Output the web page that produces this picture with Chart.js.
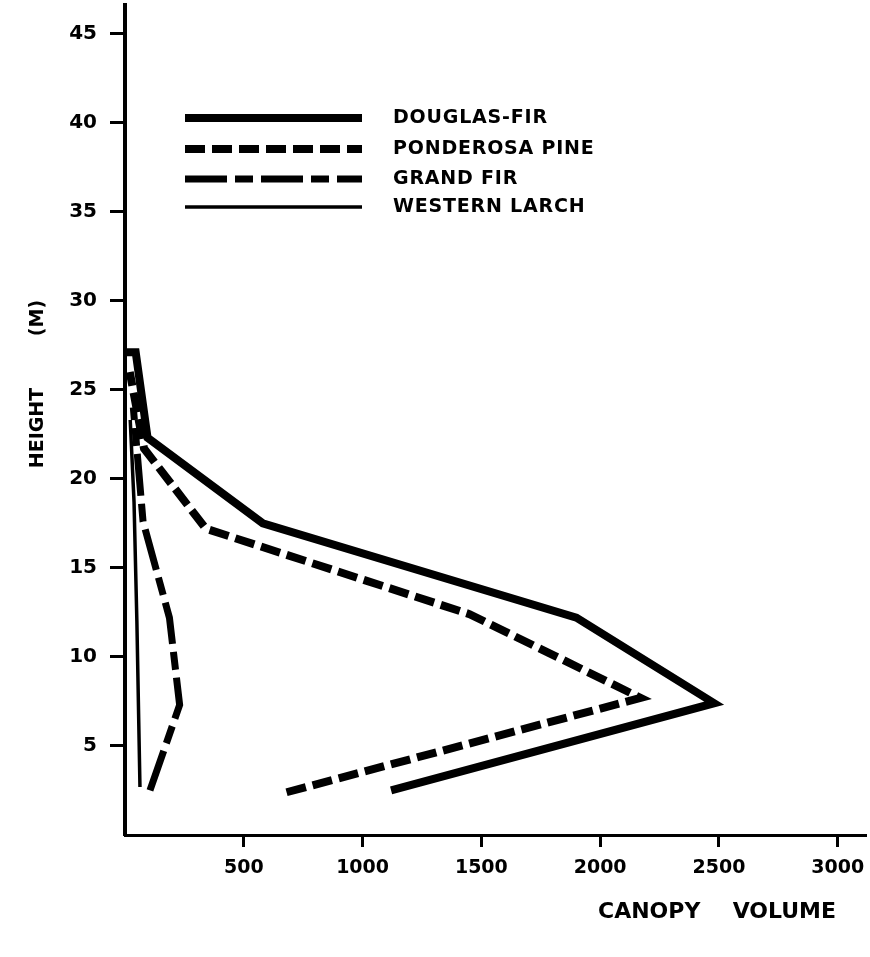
<!DOCTYPE html>
<html><head><meta charset="utf-8">
<script src="https://cdn.jsdelivr.net/npm/chart.js@4/dist/chart.umd.min.js"></script>
<style>html,body{margin:0;padding:0;background:#fff}canvas{display:block}</style>
</head><body>
<canvas id="c" width="870" height="957" style="width:870px;height:957px"></canvas>
<script>
// ---- data ----
const seriesNames = ["DOUGLAS-FIR", "PONDEROSA PINE", "GRAND FIR", "WESTERN LARCH"];

const douglasFirVolume = [1120, 2480, 1900, 580, 95, 45, 0];
const douglasFirHeight = [2.5, 7.4, 12.2, 17.5, 22.3, 27.1, 27.1];

const ponderosaVolume = [680, 2170, 1450, 340, 80, 20];
const ponderosaHeight = [2.4, 7.7, 12.4, 17.2, 21.7, 26.0];

const grandFirVolume = [105, 230, 187, 76, 35];
const grandFirHeight = [2.5, 7.3, 12.2, 17.6, 24.0];

const larchVolume = [63, 50, 38, 22];
const larchHeight = [2.7, 12.0, 18.7, 23.3];

const xTickValues = [500, 1000, 1500, 2000, 2500, 3000];
const yTickValues = [5, 10, 15, 20, 25, 30, 35, 40, 45];

const xTitleWords = ["CANOPY", "VOLUME"];
const yTitleWords = ["HEIGHT", "(M)"];

function pts(xs, ys) { return xs.map((v, i) => ({ x: v, y: ys[i] })); }

const FONT = "'DejaVu Sans', 'Liberation Sans', sans-serif";

const overlayPlugin = {
  id: 'overlay',
  afterDraw(chart) {
    const ctx = chart.ctx;
    ctx.save();
    // legend
    const lx0 = 185, lx1 = 362, tx = 393;
    const rows = [118, 149, 179, 207];
    chart.data.datasets.forEach((ds, i) => {
      const y = rows[i];
      ctx.beginPath();
      ctx.setLineDash(ds.borderDash || []);
      ctx.lineWidth = ds.borderWidth;
      ctx.strokeStyle = '#000';
      ctx.lineCap = 'butt';
      ctx.moveTo(lx0, y);
      ctx.lineTo(lx1, y);
      ctx.stroke();
      ctx.setLineDash([]);
      ctx.fillStyle = '#000';
      ctx.font = "bold 19px " + FONT;
      try { ctx.letterSpacing = '0.8px'; } catch (e) {}
      ctx.textAlign = 'left';
      ctx.textBaseline = 'middle';
      ctx.fillText(ds.label, tx, y);
    });
    try { ctx.letterSpacing = '0px'; } catch (e) {}
    // axis titles
    ctx.fillStyle = '#000';
    ctx.font = "bold 22px " + FONT;
    ctx.textBaseline = 'middle';
    ctx.textAlign = 'left';
    ctx.fillText(xTitleWords[0], 598, 912);
    ctx.textAlign = 'right';
    ctx.fillText(xTitleWords[1], 836, 912);
    ctx.font = "bold 19px " + FONT;
    ctx.textAlign = 'center';
    ctx.save();
    ctx.translate(38, 428);
    ctx.rotate(-Math.PI / 2);
    ctx.fillText(yTitleWords[0], 0, 0);
    ctx.restore();
    ctx.save();
    ctx.translate(38, 318);
    ctx.rotate(-Math.PI / 2);
    ctx.fillText(yTitleWords[1], 0, 0);
    ctx.restore();
    ctx.restore();
  }
};

const baseDs = { showLine: true, pointRadius: 0, fill: false, borderColor: '#000', backgroundColor: '#000', tension: 0, borderJoinStyle: 'miter', borderCapStyle: 'butt' };

function zeroPad(s) { s.paddingTop = 0; s.paddingBottom = 0; s.paddingLeft = 0; s.paddingRight = 0; }

new Chart(document.getElementById('c'), {
  type: 'scatter',
  data: {
    datasets: [
      Object.assign({}, baseDs, { label: seriesNames[0], data: pts(douglasFirVolume, douglasFirHeight), borderWidth: 8 }),
      Object.assign({}, baseDs, { label: seriesNames[1], data: pts(ponderosaVolume, ponderosaHeight), borderWidth: 8, borderDash: [20, 7] }),
      Object.assign({}, baseDs, { label: seriesNames[2], data: pts(grandFirVolume, grandFirHeight), borderWidth: 7, borderDash: [42, 8, 18, 8] }),
      Object.assign({}, baseDs, { label: seriesNames[3], data: pts(larchVolume, larchHeight), borderWidth: 3.5 })
    ]
  },
  options: {
    responsive: false,
    animation: false,
    devicePixelRatio: 1,
    layout: { padding: { left: 0, top: 5, right: 4, bottom: 0 } },
    plugins: { legend: { display: false }, tooltip: { enabled: false } },
    scales: {
      x: {
        type: 'linear', min: 0, max: 3119,
        afterBuildTicks: s => { s.ticks = xTickValues.map(v => ({ value: v })); },
        afterFit: s => { s.height = 122; zeroPad(s); },
        grid: { drawOnChartArea: false, drawTicks: true, tickLength: 12, tickWidth: 3, tickColor: '#000', color: '#000' },
        border: { display: true, color: '#000', width: 3 },
        ticks: { color: '#000', font: { family: FONT, weight: 'bold', size: 19 }, padding: 10, maxRotation: 0, autoSkip: false, callback: v => String(v) }
      },
      y: {
        type: 'linear', min: 0, max: 46.6,
        afterBuildTicks: s => { s.ticks = yTickValues.map(v => ({ value: v })); },
        afterFit: s => { s.width = 125; zeroPad(s); },
        grid: { drawOnChartArea: false, drawTicks: true, tickLength: 15, tickWidth: 3, tickColor: '#000', color: '#000' },
        border: { display: true, color: '#000', width: 4 },
        ticks: { color: '#000', font: { family: FONT, weight: 'bold', size: 20 }, padding: 13, autoSkip: false, callback: v => String(v) }
      }
    }
  },
  plugins: [overlayPlugin]
});
</script>
</body></html>
